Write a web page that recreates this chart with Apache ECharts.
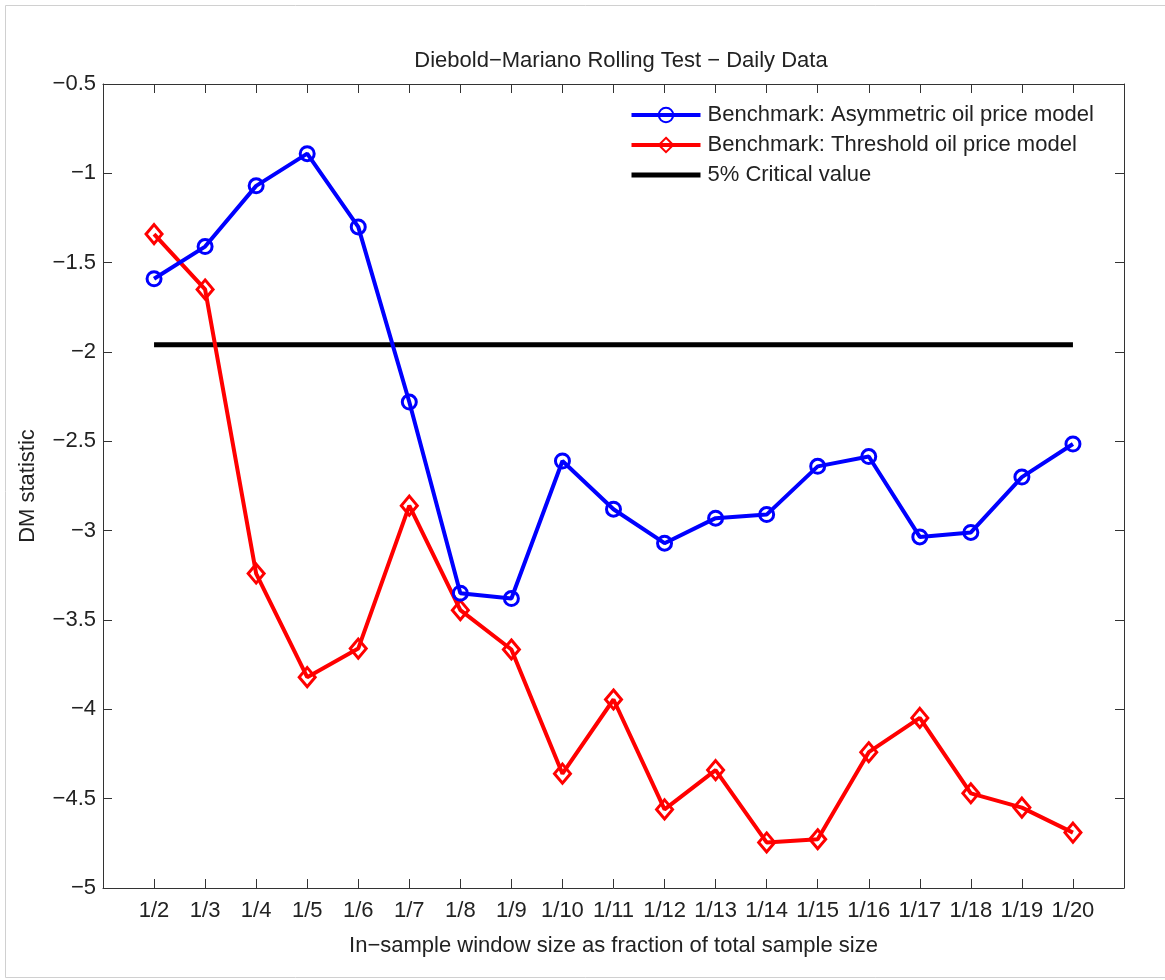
<!DOCTYPE html>
<html>
<head>
<meta charset="utf-8">
<script src="https://cdn.jsdelivr.net/npm/echarts@6/dist/echarts.min.js"></script>
<style>
html,body{margin:0;padding:0;background:#fff;}
#chart{width:1165px;height:980px;}
</style>
</head>
<body>
<div id="chart"></div>
<script>
const categories = ['1/2','1/3','1/4','1/5','1/6','1/7','1/8','1/9','1/10','1/11','1/12','1/13','1/14','1/15','1/16','1/17','1/18','1/19','1/20'];
const asymmetric = [-1.59,-1.41,-1.07,-0.89,-1.30,-2.28,-3.35,-3.38,-2.61,-2.88,-3.07,-2.93,-2.91,-2.64,-2.585,-3.035,-3.01,-2.70,-2.515];
const threshold = [-1.34,-1.65,-3.24,-3.82,-3.66,-2.86,-3.445,-3.665,-4.36,-3.945,-4.56,-4.34,-4.745,-4.727,-4.24,-4.048,-4.47,-4.55,-4.69];
const criticalValue = -1.96;
const yTicks = {min: -5, max: -0.5, interval: 0.5};
const seriesNames = ['Benchmark: Asymmetric oil price model', 'Benchmark: Threshold oil price model', '5% Critical value'];

const font = '"Liberation Sans", Arial, Helvetica, sans-serif';
const txt = '#222';
const axisCol = '#333';

// pad categories with empty slots at both ends (axis spans half a step beyond)
const cats = [''].concat(categories, ['']);
const pad = arr => [null].concat(arr, [null]);
const critical = pad(categories.map(() => criticalValue));

const chart = echarts.init(document.getElementById('chart'), null, {renderer: 'canvas'});
const xCommon = {
  type: 'category', data: cats, boundaryGap: false,
  axisLine: {show: true, onZero: false, lineStyle: {color: axisCol, width: 1}},
  axisTick: {show: true, inside: true, length: 9, lineStyle: {color: axisCol}, interval: 0},
  splitLine: {show: false}
};
const yCommon = {
  type: 'value', min: yTicks.min, max: yTicks.max, interval: yTicks.interval,
  axisLine: {show: true, onZero: false, lineStyle: {color: axisCol, width: 1}},
  axisTick: {show: true, inside: true, length: 9, lineStyle: {color: axisCol}},
  splitLine: {show: false}
};
chart.setOption({
  backgroundColor: '#fff',
  animation: false,
  textStyle: {fontFamily: font},
  title: {
    text: 'Diebold\u2212Mariano Rolling Test \u2212 Daily Data',
    left: 616, top: 45, textAlign: 'center',
    textStyle: {fontFamily: font, fontSize: 22, fontWeight: 'normal', color: txt}
  },
  graphic: [{
    type: 'rect', shape: {x: 5.5, y: 5.5, width: 1300, height: 972},
    style: {fill: 'none', stroke: '#d0d0d0', lineWidth: 1}, silent: true, z: -10
  }],
  legend: {
    orient: 'vertical', left: 624, top: 99,
    itemWidth: 69, itemHeight: 18, itemGap: 8,
    lineStyle: {width: 'inherit'},
    textStyle: {fontFamily: font, fontSize: 22, color: txt, padding: [0,0,0,2]},
    data: [
      {name: seriesNames[0]},
      {name: seriesNames[1]},
      {name: seriesNames[2], itemStyle: {opacity: 0}}
    ]
  },
  grid: {left: 103, right: 41, top: 84, bottom: 92, containLabel: false},
  xAxis: [
    Object.assign({}, xCommon, {
      position: 'bottom',
      name: 'In\u2212sample window size as fraction of total sample size',
      nameLocation: 'middle', nameGap: 47,
      nameTextStyle: {fontFamily: font, fontSize: 22, color: txt},
      axisLabel: {show: true, interval: 0, margin: 12, fontFamily: font, fontSize: 22, color: txt}
    }),
    Object.assign({}, xCommon, {position: 'top', axisLabel: {show: false}})
  ],
  yAxis: [
    Object.assign({}, yCommon, {
      position: 'left',
      name: 'DM statistic', nameLocation: 'middle', nameGap: 64, nameRotate: 90,
      nameTextStyle: {fontFamily: font, fontSize: 22, color: txt},
      axisLabel: {show: true, margin: 7, fontFamily: font, fontSize: 22, color: txt,
        formatter: v => String(+v.toFixed(1)).replace('-', '\u2212')}
    }),
    Object.assign({}, yCommon, {position: 'right', axisLabel: {show: false}})
  ],
  series: [
    {
      name: seriesNames[0], type: 'line',
      data: pad(asymmetric), symbol: 'circle', symbolSize: 14,
      itemStyle: {color: 'rgba(255,255,255,0)', borderColor: '#0000ff', borderWidth: 3},
      lineStyle: {color: '#0000ff', width: 4},
      z: 4
    },
    {
      name: seriesNames[1], type: 'line',
      data: pad(threshold), symbol: 'diamond', symbolSize: [16, 19],
      itemStyle: {color: 'rgba(255,255,255,0)', borderColor: '#ff0000', borderWidth: 3},
      lineStyle: {color: '#ff0000', width: 4},
      z: 3
    },
    {
      name: seriesNames[2], type: 'line',
      data: critical, symbol: 'none',
      itemStyle: {color: '#000'},
      lineStyle: {color: '#000', width: 5},
      z: 2
    }
  ]
});
</script>
</body>
</html>
